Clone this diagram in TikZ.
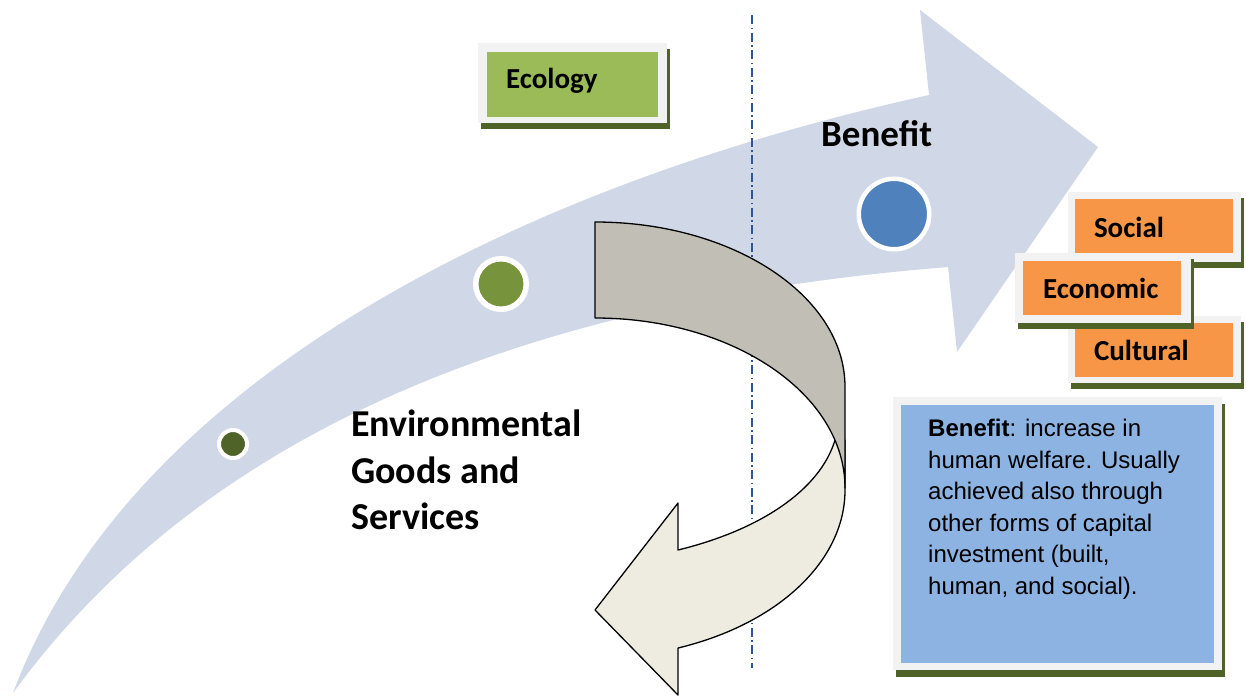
\documentclass[tikz,border=0pt]{standalone}
\usepackage{fontspec}
\setmainfont{Carlito}
\newfontfamily\arialf{Liberation Sans}
\definecolor{arrowblue}{RGB}{208,216,232}
\definecolor{framegray}{RGB}{242,242,242}
\definecolor{shadowolive}{RGB}{79,98,40}
\definecolor{boxgreen}{RGB}{155,187,89}
\definecolor{boxorange}{RGB}{247,150,70}
\definecolor{boxblue}{RGB}{141,179,226}
\definecolor{dotdark}{RGB}{79,98,40}
\definecolor{dotgreen}{RGB}{119,147,60}
\definecolor{dotblue}{RGB}{79,129,189}
\definecolor{turngray}{RGB}{193,190,182}
\definecolor{turnlight}{RGB}{238,236,225}
\definecolor{dashblue}{RGB}{47,85,151}
\tikzset{
  boxshadow/.style={fill=shadowolive},
  boxframe/.style={fill=framegray},
  tagbox/.style={inner ysep=0pt, align=left, text depth=0pt,
    font=\fontsize{29}{34}\selectfont\bfseries, minimum height=54pt},
  dotnode/.style={circle, draw=white, inner sep=0pt},
  turnline/.style={draw=black, line width=1.3pt, line join=round},
}
\begin{document}
\begin{tikzpicture}[x=1pt,y=-1pt]
\useasboundingbox[fill=white] (0,0) rectangle (1246,697);

% big curved arrow
\fill[arrowblue] (13,693) .. controls (130,380) and (520,185) .. (929,95)
  -- (920,10) -- (1098,147) -- (957,352) -- (948,267)
  .. controls (600,295) and (230,395) .. (13,693) -- cycle;

% dash-dot divider
\coordinate (dtop) at (752,15);
\coordinate (dbot) at (752,668);
\draw[dashblue, line width=1.4pt, dash pattern=on 9pt off 3.5pt on 1.5pt off 3.5pt] (dtop) -- (dbot);

% dots
\node[dotnode, line width=4pt, fill=dotdark, minimum size=28pt] (dsmall) at (233,444) {};
\node[dotnode, line width=5.5pt, fill=dotgreen, minimum size=50.5pt] (dmid) at (501,284) {};
\node[dotnode, line width=4.5pt, fill=dotblue, minimum size=70.5pt] (dbig) at (894,214) {};

% labels
\node[anchor=base west, inner sep=0pt, font=\fontsize{37}{44}\selectfont\bfseries] (benefit) at (821,146) {Benefit};
\node[anchor=north west, inner sep=0pt, align=left, font=\fontsize{38}{46.5}\selectfont\bfseries] (egs) at (351,410) {Environmental\\Goods and\\Services};

% U-turn arrow: light front part
\fill[turnlight, turnline] (835,440) -- (845,440) -- (845,490)
  .. controls (845,561) and (778,624) .. (678,648)
  -- (678,695) -- (595,610) -- (678,503) -- (678,550)
  .. controls (760,530) and (820,490) .. (835,440) -- cycle;
% U-turn arrow: gray back part
\fill[turngray, turnline] (595,222) -- (595,318)
  .. controls (733,318) and (845,394) .. (845,488)
  -- (845,387) .. controls (845,296) and (733,222) .. (595,222) -- cycle;

% Ecology box
\fill[boxshadow] (481,49) rectangle (670,129);
\fill[boxframe] (478,43) rectangle (667,123);
\node[tagbox, fill=boxgreen, minimum width=171pt, minimum height=65pt, text width=133pt, inner xsep=19pt, text height=12pt, text depth=5pt] (ecology) at (572.5,84.5) {Ecology};

% Social box
\fill[boxshadow] (1071,198) rectangle (1244,268);
\fill[boxframe] (1068,192) rectangle (1241,262);
\node[tagbox, fill=boxorange, minimum width=158pt, text width=120pt, inner xsep=19pt, text height=22pt] (social) at (1154,226) {Social};

% Cultural box
\fill[boxshadow] (1071,322) rectangle (1244,389);
\fill[boxframe] (1068,316) rectangle (1241,383);
\node[tagbox, fill=boxorange, minimum width=158pt, text width=120pt, inner xsep=19pt, text height=20pt] (cultural) at (1154,350) {Cultural};

% Economic box
\fill[boxshadow] (1018,259) rectangle (1194,329);
\fill[boxframe] (1015,253) rectangle (1191,323);
\node[tagbox, fill=boxorange, minimum width=158pt, text width=118pt, inner xsep=20pt, text height=20pt] (economic) at (1102,288) {Economic};

% Benefit definition box
\fill[boxshadow] (896,404) rectangle (1225,677);
\fill[boxframe] (893,397) rectangle (1222,670);
\node[fill=boxblue, minimum width=313pt, minimum height=258pt, inner sep=0pt] (infobox) at (1057.5,534) {};
\node[anchor=north west, inner sep=0pt, align=left, font=\arialf\fontsize{24}{31.5}\selectfont] (infotext) at (928,419)
  {\textbf{Benefit}: increase in\\human welfare. Usually\\achieved also through\\other forms of capital\\investment (built,\\human, and social).};
\end{tikzpicture}
\end{document}
